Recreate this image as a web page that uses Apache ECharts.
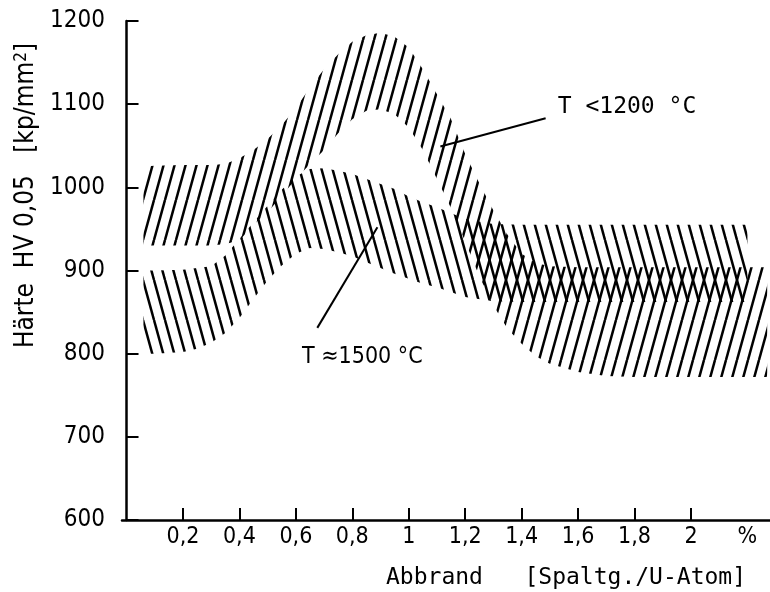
<!DOCTYPE html>
<html>
<head>
<meta charset="utf-8">
<script src="https://cdn.jsdelivr.net/npm/echarts@6/dist/echarts.min.js"></script>
<style>
  html, body { margin: 0; padding: 0; background: #fff; }
  #chart { width: 770px; height: 592px; }
</style>
</head>
<body>
<div id="chart"></div>
<script>
// band T < 1200 °C  (Abbrand %, HV)
var xLow = [0.06, 0.1, 0.2, 0.3, 0.35, 0.4, 0.45, 0.5, 0.55, 0.6, 0.65, 0.7, 0.75, 0.8, 0.85, 0.9, 0.95, 1.0, 1.05, 1.1,
  1.15, 1.2, 1.25, 1.3, 1.35, 1.4, 1.45, 1.5, 1.6, 1.7, 1.8, 1.9, 2.0, 2.1, 2.2, 2.27]
var lowTop = [1025, 1026, 1027, 1027, 1028, 1035, 1045, 1058, 1075, 1095, 1120, 1142, 1160, 1175, 1183, 1186, 1181, 1168, 1142, 1112,
  1082, 1040, 1005, 972, 943, 920, 909, 905, 904, 904, 904, 904, 904, 904, 904, 904]
var lowBottom = [930, 930, 930, 930, 932, 936, 955, 970, 990, 1010, 1028, 1045, 1065, 1082, 1092, 1094, 1088, 1072, 1045, 1010,
  975, 935, 893, 858, 830, 812, 797, 788, 778, 773, 772, 772, 772, 772, 772, 772]

// band T ≈ 1500 °C
var xHigh = [0.06, 0.1, 0.2, 0.25, 0.3, 0.35, 0.4, 0.45, 0.5, 0.55, 0.6, 0.65, 0.7, 0.75, 0.8, 0.85, 0.9, 0.95, 1.0, 1.05,
  1.1, 1.2, 1.3, 1.4, 1.5, 1.6, 1.8, 2.0, 2.2]
var highTop = [900, 900, 901, 903, 905, 918, 938, 958, 978, 997, 1013, 1022, 1023, 1020, 1016, 1010, 1004, 998, 989, 982,
  976, 962, 956, 955, 955, 955, 955, 955, 955]
var highBottom = [800, 800, 802, 806, 813, 825, 843, 866, 888, 906, 920, 927, 926, 922, 917, 910, 903, 896, 890, 884,
  880, 868, 863, 862, 862, 862, 862, 862, 862]

var xTickValues = [0.2, 0.4, 0.6, 0.8, 1, 1.2, 1.4, 1.6, 1.8, 2]
var xLabelValues = [0.2, 0.4, 0.6, 0.8, 1, 1.2, 1.4, 1.6, 1.8, 2, 2.2]
var xLabelTexts = ['0,2', '0,4', '0,6', '0,8', '1', '1,2', '1,4', '1,6', '1,8', '2', '%']

// leader lines and their labels
var leaderLow = [[1.112, 1049], [1.485, 1083]]
var leaderHigh = [[0.676, 831], [0.889, 952]]
var noteLow = [1.528, 1097, 'T <1200 °C']
var noteHigh = [0.622, 796, 'T \u22481500 °C']

var cond = "'DejaVu Sans Condensed', sans-serif"
var mono = "'DejaVu Sans Mono', monospace"

function hatch(dir) {
  var w = 11, h = 40
  var c = document.createElement('canvas')
  c.width = w
  c.height = h
  var ctx = c.getContext('2d')
  ctx.strokeStyle = '#000'
  ctx.lineWidth = 2.5
  for (var k = -1; k <= 1; k++) {
    ctx.beginPath()
    if (dir === '/') {
      ctx.moveTo(k * w, h)
      ctx.lineTo(k * w + w, 0)
    } else {
      ctx.moveTo(k * w, 0)
      ctx.lineTo(k * w + w, h)
    }
    ctx.stroke()
  }
  return c
}

// one hatched polygon per band: upper edge forward, lower edge back
function band(xs, bottom, top, dir) {
  var pattern = { image: hatch(dir), repeat: 'repeat' }
  return {
    type: 'custom',
    coordinateSystem: 'cartesian2d',
    silent: true,
    data: xs.map(function (x, i) { return [x, bottom[i], top[i]] }),
    encode: { x: 0, y: [1, 2] },
    renderItem: function (params, api) {
      if (params.dataIndex !== 0) return null
      var pts = []
      for (var i = 0; i < xs.length; i++) pts.push(api.coord([xs[i], top[i]]))
      for (var j = xs.length - 1; j >= 0; j--) pts.push(api.coord([xs[j], bottom[j]]))
      return { type: 'polygon', shape: { points: pts }, style: { fill: pattern, stroke: null } }
    }
  }
}

function leader(pts) {
  return {
    type: 'line', data: pts, symbol: 'none', silent: true, z: 5,
    lineStyle: { color: '#000', width: 2 }
  }
}

function note(n, family, size) {
  return {
    type: 'scatter', symbolSize: 0, silent: true, z: 6,
    itemStyle: { opacity: 1 },
    data: [[n[0], n[1]]],
    label: {
      show: true, position: 'right', distance: 0, formatter: n[2],
      color: '#000', opacity: 1, fontSize: size, fontFamily: family
    }
  }
}

var chart = echarts.init(document.getElementById('chart'))

var series = [
  band(xLow, lowBottom, lowTop, '/'),
  band(xHigh, highBottom, highTop, '\\'),
  leader(leaderLow),
  leader(leaderHigh),
  note(noteLow, mono, 23),
  note(noteHigh, cond, 23)
]

chart.setOption({
  animation: false,
  backgroundColor: '#fff',
  title: {
    text: 'Abbrand   [Spaltg./U-Atom]',
    left: 381, top: 562,
    textStyle: { fontSize: 23, fontWeight: 'normal', color: '#000', fontFamily: mono }
  },
  grid: { left: 122, right: 0, top: 21, bottom: 72, containLabel: false, outerBoundsMode: 'none' },
  xAxis: {
    type: 'value', min: -0.016, max: 2.28,
    splitLine: { show: false },
    axisLine: { show: true, lineStyle: { color: '#000', width: 2.5 } },
    axisTick: { show: true, inside: true, length: 12, customValues: xTickValues, lineStyle: { color: '#000', width: 2 } },
    axisLabel: {
      customValues: xLabelValues, margin: 6, color: '#000', fontSize: 23, fontFamily: cond,
      formatter: function (v) {
        for (var i = 0; i < xLabelValues.length; i++) {
          if (Math.abs(xLabelValues[i] - v) < 1e-6) return xLabelTexts[i]
        }
        return ''
      }
    }
  },
  yAxis: {
    type: 'value', min: 600, max: 1200, interval: 100,
    splitLine: { show: false },
    axisLine: { show: true, lineStyle: { color: '#000', width: 2.5 } },
    axisTick: { show: true, inside: true, length: 12, lineStyle: { color: '#000', width: 2 } },
    axisLabel: {
      margin: 17, color: '#000', fontSize: 24, fontFamily: cond,
      formatter: function (v) { return String(v) }
    },
    name: 'Härte  HV 0,05   [kp/mm{s|2}]',
    nameLocation: 'middle', nameRotate: 90, nameGap: 62,
    nameTextStyle: {
      color: '#000', fontSize: 26, fontFamily: cond, padding: [0, 0, 0, 150],
      rich: { s: { fontSize: 17, verticalAlign: 'top', lineHeight: 18, color: '#000', fontFamily: cond } }
    }
  },
  series: series
})
</script>
</body>
</html>
